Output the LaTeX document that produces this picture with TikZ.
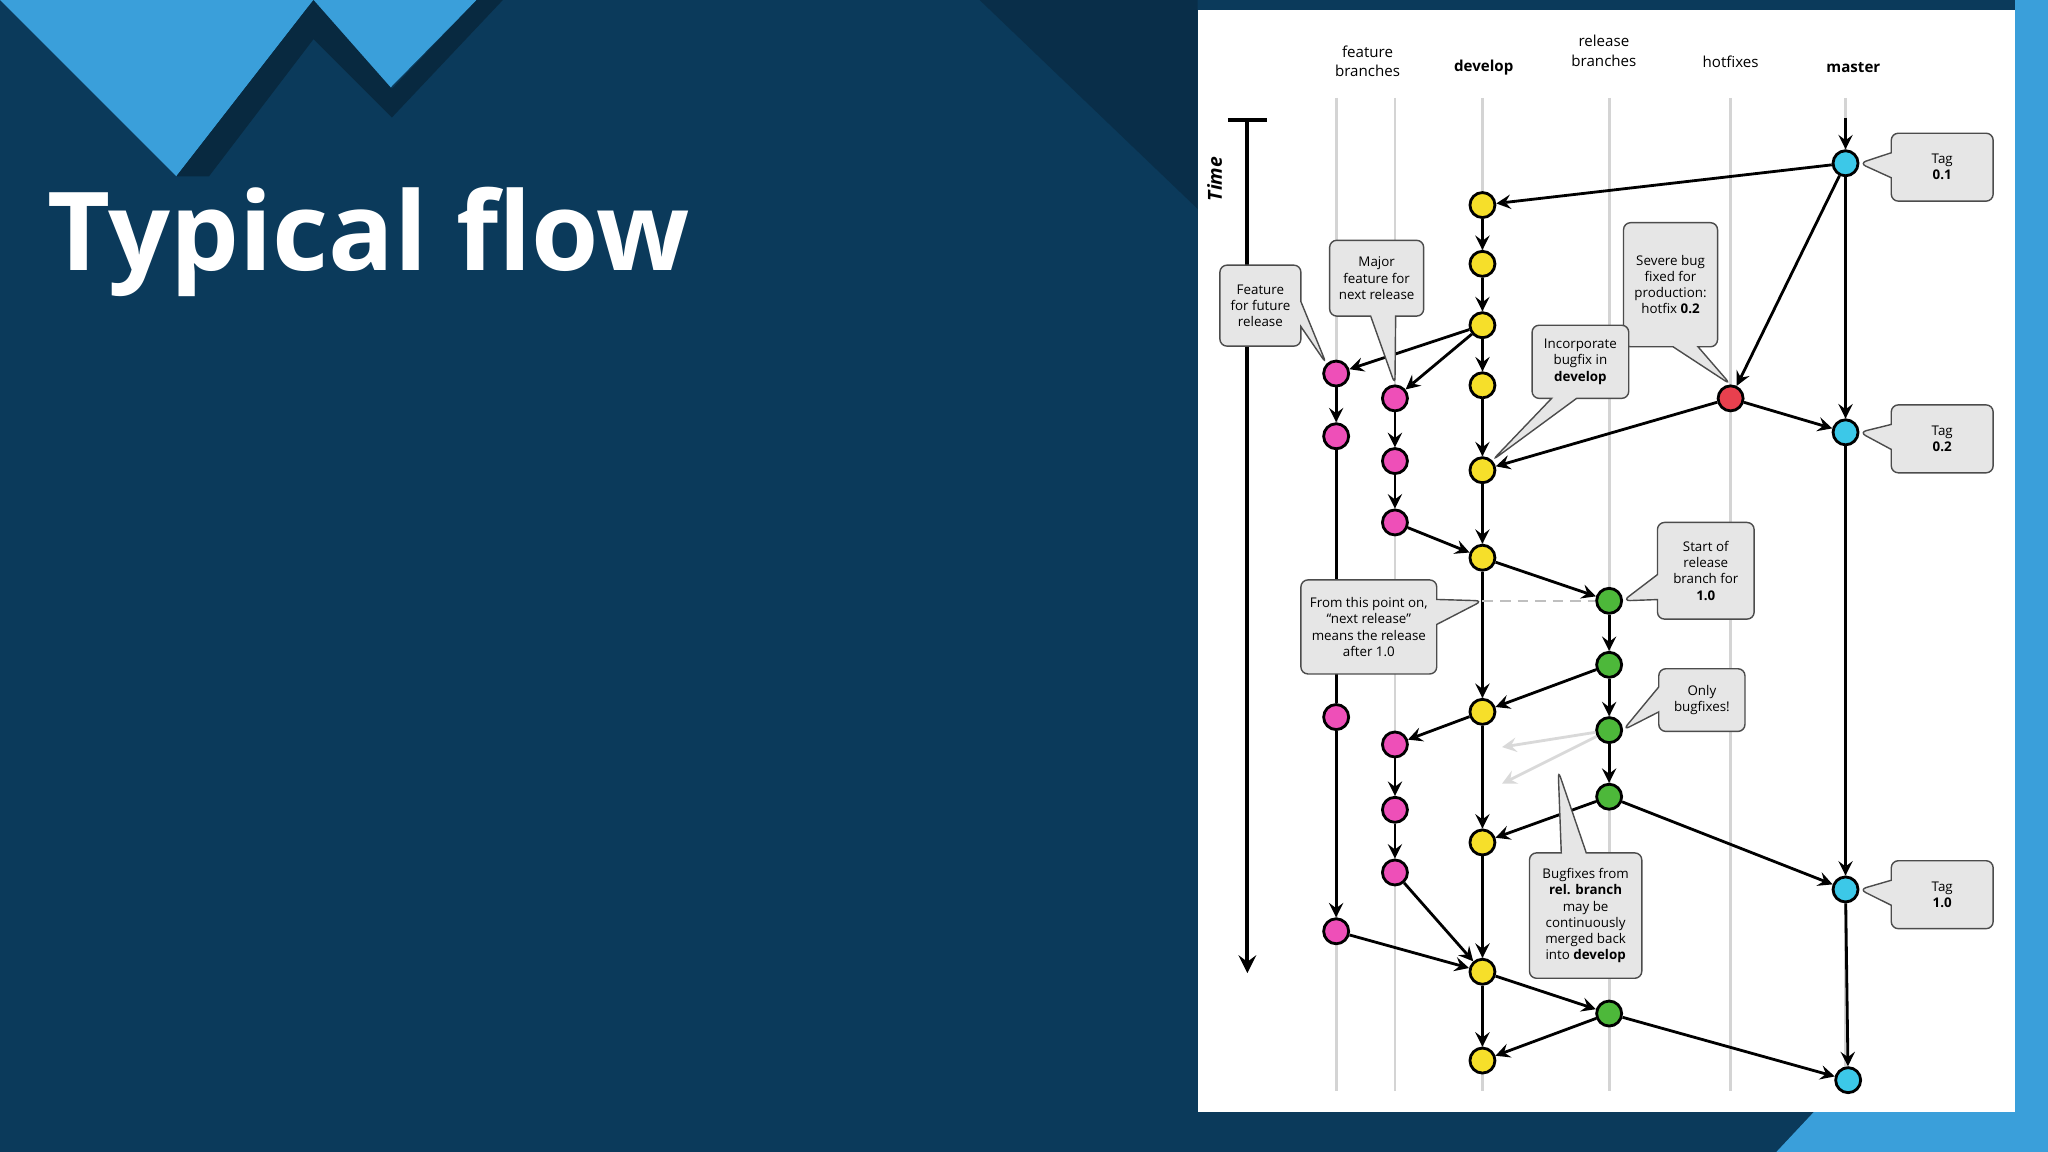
\documentclass[tikz,border=0pt]{standalone}
\usepackage{fontspec}
\setmainfont{Open Sans}
\usetikzlibrary{positioning, shapes.callouts}

\definecolor{slide}{HTML}{0B3A5B}
\definecolor{stripe}{HTML}{3A9FDA}
\definecolor{lane}{HTML}{D4D4D4}
\definecolor{featc}{HTML}{EE4FB8}
\definecolor{devc}{HTML}{F6DF2A}
\definecolor{relc}{HTML}{4DB83A}
\definecolor{hotc}{HTML}{E8404E}
\definecolor{mastc}{HTML}{3CC8E8}
\definecolor{boxc}{HTML}{E6E6E6}

\tikzset{
    commit/.style={circle, draw=black, thick, minimum size=0.25cm, inner sep=0pt},
    feat/.style={commit, fill=featc},
    dev/.style={commit, fill=devc},
    rel/.style={commit, fill=relc},
    hot/.style={commit, fill=hotc},
    mast/.style={commit, fill=mastc},
    flow/.style={->, >=stealth, thick},
    note/.style 2 args={rectangle callout, rounded corners=2pt, draw=black!70, fill=boxc,
        align=center, inner sep=1pt, font=\fontsize{3.8}{4.6}\selectfont,
        minimum width=#1*0.3716pt, minimum height=#2*0.3716pt},
    head/.style={align=center, font=\fontsize{4.3}{5.6}\selectfont}
}

\begin{document}
\begin{tikzpicture}[x=0.01306cm, y=-0.01306cm]
    \useasboundingbox (0,0) rectangle (1568,882);
    \fill[slide] (0,0) rectangle (1568,882);

    % slide decoration
    \fill[slide!80!black] (750,0) -- (917,0) -- (917,160) -- cycle;
    \fill[stripe] (0,0) -- (240,0) -- (135,135) -- cycle;
    \fill[stripe] (230,0) -- (365,0) -- (298,68) -- cycle;
    \fill[slide!70!black] (135,135) -- (240,0) -- (300,68) -- (365,0) -- (385,0) -- (300,90) -- (240,30) -- (160,135) -- cycle;
    \fill[stripe] (1543,0) rectangle (1568,882);
    \fill[stripe] (1360,882) -- (1568,882) -- (1568,850) -- (1390,850) -- cycle;

    \node[anchor=west, text=white, font=\fontsize{31}{37}\selectfont\bfseries] (title) at (27,185) {Typical flow};

    % panel
    \fill[white] (917,8) rectangle (1543,851);

    % lanes
    \foreach \x in {1023, 1068, 1135, 1232, 1325, 1413}
        \draw[lane, thick] (\x,75) -- (\x,835);

    \node[head] (hfeat) at (1047,47) {feature\\branches};
    \node[head] (hdev)  at (1136,52) {\textbf{develop}};
    \node[head] (hrel)  at (1228,39) {release\\branches};
    \node[head] (hhot)  at (1325,47) {hotfixes};
    \node[head] (hmast) at (1419,52) {\textbf{master}};

    % time axis
    \coordinate (t0) at (955,92);
    \coordinate (t1) at (955,745);
    \draw[->, >=stealth, very thick] (t0) -- (t1);
    \draw[very thick] (940,92) -- (970,92);
    \node[rotate=90, font=\fontsize{5.5}{7}\selectfont\bfseries\itshape] (time) at (930,137) {Time};

    % master
    \node[mast] (m1) at (1413,125) {};
    \node[mast] (m2) at (1413,331) {};
    \node[mast] (m3) at (1413,681) {};
    \node[mast] (m4) at (1415,827) {};
    \node[hot]  (h1) at (1325,305) {};

    % develop
    \foreach \i/\y in {1/157, 2/202, 3/249, 4/295, 5/360, 6/427, 7/545, 8/645, 9/744, 10/812}
        \node[dev] (d\i) at (1135,\y) {};

    % features
    \foreach \i/\y in {1/286, 2/334, 3/549, 4/713}
        \node[feat] (f\i) at (1023,\y) {};
    \foreach \i/\y in {1/305, 2/353, 3/400, 4/570, 5/620, 6/668}
        \node[feat] (g\i) at (1068,\y) {};

    % release
    \foreach \i/\y in {1/460, 2/509, 3/559, 4/610, 5/776}
        \node[rel] (r\i) at (1232,\y) {};

    \coordinate (mtop) at (1413,90);
    \draw[flow] (mtop) -- (m1);
    \draw[flow] (m1) -- (d1);
    \draw[flow] (m1) -- (h1);
    \draw[flow] (m1) -- (m2);
    \draw[flow] (h1) -- (m2);
    \draw[flow] (h1) -- (d5);
    \draw[flow] (m2) -- (m3);
    \draw[flow] (m3) -- (m4);
    \foreach \a/\b in {1/2, 2/3, 3/4, 4/5, 5/6, 6/7, 7/8, 8/9, 9/10}
        \draw[flow] (d\a) -- (d\b);
    \draw[flow] (d3) -- (f1);
    \draw[flow] (d3) -- (g1);
    \draw[flow] (f1) -- (f2);
    \draw[thick] (f2) -- (f3);
    \draw[flow] (f3) -- (f4);
    \draw[flow] (f4) -- (d9);
    \draw[flow] (g1) -- (g2);
    \draw[flow] (g2) -- (g3);
    \draw[flow] (g3) -- (d6);
    \draw[flow] (d6) -- (r1);
    \draw[flow] (r1) -- (r2);
    \draw[flow] (r2) -- (r3);
    \draw[flow] (r3) -- (r4);
    \draw[flow] (r2) -- (d7);
    \draw[flow] (d7) -- (g4);
    \draw[flow] (g4) -- (g5);
    \draw[flow] (g5) -- (g6);
    \draw[flow] (g6) -- (d9);
    \draw[flow] (r4) -- (d8);
    \draw[flow] (r4) -- (m3);
    \draw[flow] (d9) -- (r5);
    \draw[flow] (r5) -- (d10);
    \draw[flow] (r5) -- (m4);

    % faint back-merges
    \coordinate (b1) at (1150,572);
    \coordinate (b2) at (1150,600);
    \draw[flow, black!15] (r3) -- (b1);
    \draw[flow, black!15] (r3) -- (b2);
    \coordinate (dl) at (1135,460);
    \draw[densely dashed, black!25] (dl) -- (r1);

    % notes
    \node[note={78}{52}, callout absolute pointer={(m1.east)}] (n01) at (1487,128) {Tag\\\textbf{0.1}};
    \node[note={78}{52}, callout absolute pointer={(m2.east)}] (n02) at (1487,336) {Tag\\\textbf{0.2}};
    \node[note={78}{52}, callout absolute pointer={(m3.east)}] (n10) at (1487,685) {Tag\\\textbf{1.0}};
    \node[note={62}{62}, callout absolute pointer={(f1.north west)}] (nfut) at (965,234) {Feature\\for future\\release};
    \node[note={72}{58}, callout absolute pointer={(g1.north)}] (nmaj) at (1054,213) {Major\\feature for\\next release};
    \node[note={72}{95}, callout absolute pointer={(h1.north)}] (nbug) at (1279,218) {Severe bug\\fixed for\\production:\\hotfix \textbf{0.2}};
    \node[note={74}{56}, callout absolute pointer={(d5.north east)}] (ninc) at (1210,277) {Incorporate\\bugfix in\\\textbf{develop}};
    \node[note={74}{74}, callout absolute pointer={(r1.east)}] (nsta) at (1306,437) {Start of\\release\\branch for\\\textbf{1.0}};
    \node[note={104}{72}, callout absolute pointer={(dl)}] (npt) at (1048,480) {From this point on,\\``next release''\\means the release\\after 1.0};
    \node[note={66}{48}, callout absolute pointer={(r3.east)}] (nonl) at (1303,536) {Only\\bugfixes!};
    \coordinate (bp) at (1193,590);
    \node[note={86}{96}, callout absolute pointer={(bp)}] (nbfx) at (1214,701) {Bugfixes from\\\textbf{rel. branch}\\may be\\continuously\\merged back\\into \textbf{develop}};
\end{tikzpicture}
\end{document}
